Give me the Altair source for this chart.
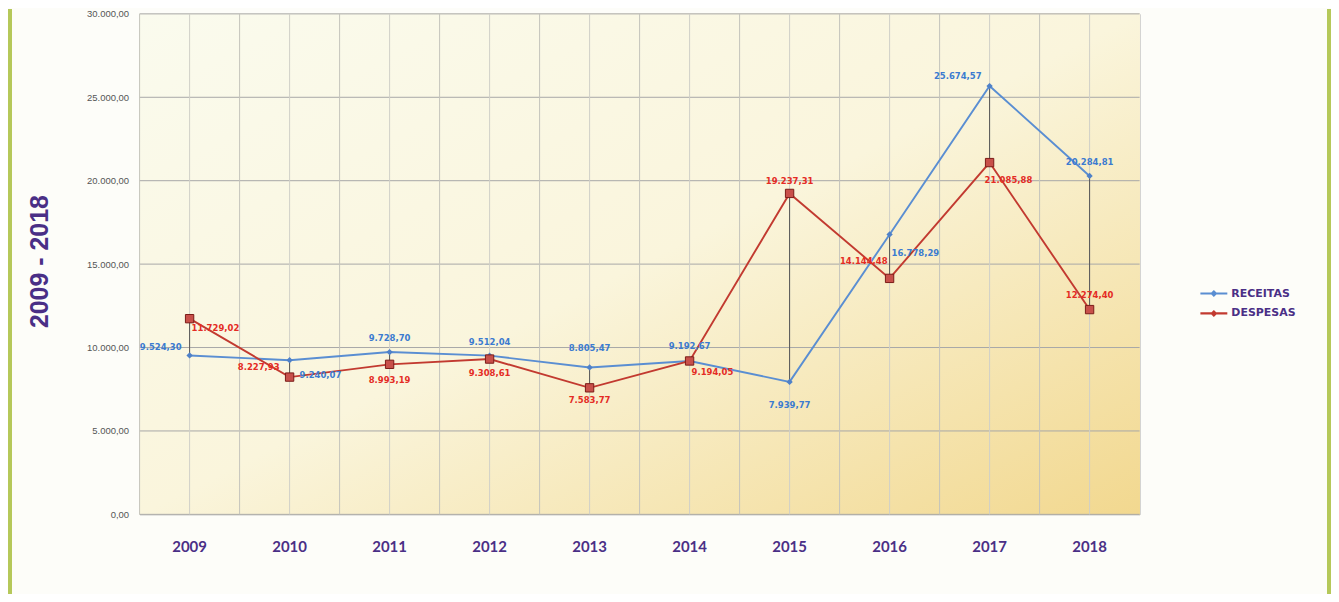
import altair as alt
import pandas as pd

# ---------------- data ----------------
anos = ["2009", "2010", "2011", "2012", "2013", "2014", "2015", "2016", "2017", "2018"]
receitas = [9524.30, 9240.07, 9728.70, 9512.04, 8805.47, 9192.67, 7939.77, 16778.29, 25674.57, 20284.81]
despesas = [11729.02, 8227.93, 8993.19, 9308.61, 7583.77, 9194.05, 19237.31, 14144.48, 21085.88, 12274.40]
series = ["RECEITAS", "DESPESAS"]
y_ticks = [0, 5000, 10000, 15000, 20000, 25000, 30000]

# label placement (dx, dy, align) per point - styling only
lab_rec = [(-8, -8, "right"), (10, 15, "left"), (0, -14, "center"), (0, -14, "center"), (0, -20, "center"),
           (0, -15, "center"), (0, 23, "center"), (2, 19, "left"), (-8, -10, "right"), (0, -14, "center")]
lab_des = [(2, 9, "left"), (-10, -10, "right"), (0, 16, "center"), (0, 14, "center"), (0, 12, "center"),
           (2, 11, "left"), (0, -12, "center"), (-2, -17, "right"), (-5, 17, "left"), (0, -15, "center")]


def fmt_br(v):
    s = f"{v:,.2f}"
    return s.replace(",", "#").replace(".", ",").replace("#", ".")


rows = []
for a, r, d in zip(anos, receitas, despesas):
    rows.append({"ano": a, "serie": "RECEITAS", "valor": r, "rotulo": fmt_br(r), "pid": "R" + a})
    rows.append({"ano": a, "serie": "DESPESAS", "valor": d, "rotulo": fmt_br(d), "pid": "D" + a})
df = pd.DataFrame(rows)
wide = pd.DataFrame({"ano": anos, "receitas": receitas, "despesas": despesas})
grid_df = pd.DataFrame({"tick": y_ticks})

W, H = 1003, 502
PURPLE = "#4a2f86"
BLUE_LINE = "#5a8ed2"
RED_LINE = "#c23a30"

x_axis = alt.Axis(title=None, labelFont="Lato", labelFontWeight="bold", labelFontSize=15,
                  labelColor=PURPLE, labelPadding=25, ticks=False, domain=False, grid=False,
                  labelAngle=0)
x_scale = alt.Scale(type="band", domain=anos, paddingInner=0, paddingOuter=0)

label_expr = "replace(replace(replace(format(datum.value, ',.2f'), ',', '#'), '.', ','), '#', '.')"
y_axis = alt.Axis(title="2009 - 2018", values=y_ticks, labelExpr=label_expr, labelFont="Liberation Sans",
                  labelFontSize=9.5, labelColor="#555555", labelPadding=11, ticks=False, domain=False,
                  grid=False, titleFont="Liberation Sans", titleFontWeight="bold", titleFontSize=25,
                  titleColor=PURPLE, titleX=-100, titleY=248, titleAngle=270, titleAlign="center",
                  titleBaseline="middle")
y_scale = alt.Scale(domain=[0, 30000], nice=False, zero=True)


def X(**kw):
    return alt.X("ano:N", scale=x_scale, axis=x_axis, **kw)


def Y(field):
    return alt.Y(field, scale=y_scale, axis=y_axis)


base = alt.Chart(df)

bg = alt.Chart(wide).mark_rect(
    fill=alt.LinearGradient(gradient="linear", x1=0, y1=0, x2=1, y2=1,
                            stops=[alt.GradientStop(color="#fafbee", offset=0),
                                   alt.GradientStop(color="#faf5dc", offset=0.5),
                                   alt.GradientStop(color="#f2d88f", offset=1)])
).encode(x=alt.value(0), x2=alt.value(W), y=alt.value(0), y2=alt.value(H))

ygrid = alt.Chart(grid_df).mark_rule(color="#a8a8a8", strokeWidth=1).encode(y=Y("tick:Q"))
xgrid_edge = alt.Chart(wide).mark_rule(color="#c4c4bc", strokeWidth=1).encode(x=X(bandPosition=0))
xgrid_mid = alt.Chart(wide).mark_rule(color="#d0d0c8", strokeWidth=1).encode(x=X())

hilo = alt.Chart(wide).mark_rule(color="#555555", strokeWidth=1).encode(
    x=X(), y=Y("receitas:Q"), y2="despesas:Q")

DI = "M-1.35,0L1.35,0M0,-0.2L0.2,0L0,0.2L-0.2,0Z"

lines = base.mark_line(strokeWidth=1.9).encode(
    x=X(), y=Y("valor:Q"),
    color=alt.Color("serie:N", scale=alt.Scale(domain=series, range=[BLUE_LINE, RED_LINE]),
                    legend=alt.Legend(title=None, orient="none", legendX=1066, legendY=269,
                                      symbolType=DI, symbolSize=400, symbolStrokeWidth=2.2,
                                      labelOffset=6, rowPadding=2, padding=0,
                                      labelFont="DejaVu Sans", labelFontWeight="bold",
                                      labelFontSize=11, labelColor=PURPLE)),
    detail="serie:N")

pts_r = base.transform_filter(alt.datum.serie == "RECEITAS").mark_point(
    shape="diamond", filled=True, size=40, color="#4f81c8", opacity=1).encode(x=X(), y=Y("valor:Q"))
pts_d = base.transform_filter(alt.datum.serie == "DESPESAS").mark_point(
    shape="square", filled=True, size=70, fill="#c8504a", stroke="#7a1c18", strokeWidth=1,
    opacity=1).encode(x=X(), y=Y("valor:Q"))

text_layers = []
for i, a in enumerate(anos):
    for pref, lay, col in (("R", lab_rec, "#3b7bd0"), ("D", lab_des, "#e42c24")):
        dx, dy, al = lay[i]
        text_layers.append(
            base.transform_filter(alt.datum.pid == pref + a).mark_text(
                font="DejaVu Sans", fontWeight="bold", fontSize=8.5, color=col,
                dx=dx, dy=dy, align=al, baseline="middle").encode(
                x=X(), y=Y("valor:Q"), text="rotulo:N"))

frame_l = alt.Chart(wide).mark_rule(color="#b5c85a", strokeWidth=3).encode(
    x=alt.value(-130), y=alt.value(-5), y2=alt.value(583))
frame_r = alt.Chart(wide).mark_rule(color="#b5c85a", strokeWidth=3).encode(
    x=alt.value(1193), y=alt.value(-5), y2=alt.value(583))

chart = alt.layer(bg, ygrid, xgrid_edge, xgrid_mid, hilo, lines, pts_r, pts_d, *text_layers,
                  frame_l, frame_r).properties(
    width=W, height=H,
    autosize=alt.AutoSizeParams(type="none"),
    padding={"left": 132, "top": 5, "right": 192, "bottom": 79},
    background="#fdfdf9",
).configure_view(stroke="#b4b4b4", strokeWidth=1)

chart.save("out.html", embed_options={"renderer": "svg", "actions": False})
